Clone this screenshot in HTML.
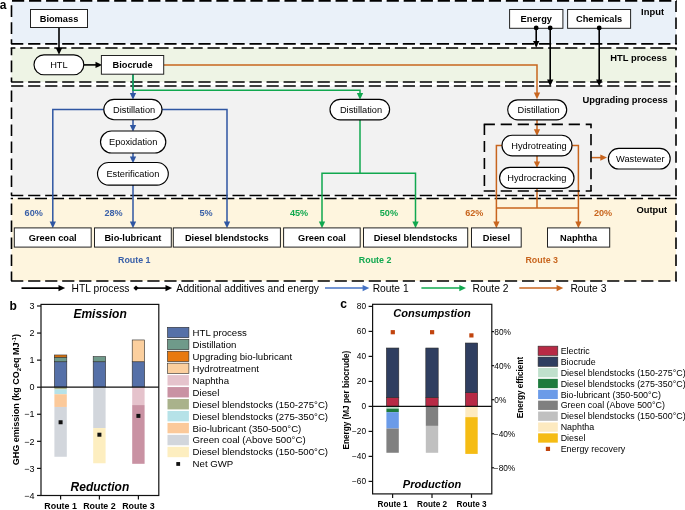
<!DOCTYPE html>
<html lang="en"><head><meta charset="utf-8"><title>Figure</title>
<style>html,body{margin:0;padding:0;background:#fff}svg{display:block}text{font-family:"Liberation Sans",sans-serif;fill:#000}.b{font-weight:bold}.bi{font-weight:bold;font-style:italic}.bx{fill:#fff;stroke:#222;stroke-width:1}.ds{fill:none;stroke:#111;stroke-width:1.4;stroke-dasharray:11.5 5.5}.k{stroke:#000;stroke-width:1.6;fill:none}.r1{stroke:#2f56a2;stroke-width:1.5;fill:none}.r2{stroke:#11a84f;stroke-width:1.5;fill:none}.r3{stroke:#c8651e;stroke-width:1.5;fill:none}.ax{stroke:#111;stroke-width:1.2;fill:none}</style></head><body>
<svg width="685" height="510" viewBox="0 0 685 510">
<rect width="685" height="510" fill="#fff"/>
<rect x="11.5" y="0.9" width="664.5" height="43.0" fill="#eaf1f9"/>
<rect x="11.5" y="48.0" width="664.5" height="34.0" fill="#eef4e5"/>
<rect x="11.5" y="86.0" width="664.5" height="109.5" fill="#f2f2f2"/>
<rect x="11.5" y="198.5" width="664.5" height="82.5" fill="#fef5de"/>
<path d="M10.7,0.9 H676.8" fill="none" stroke="#000" stroke-width="1.6" stroke-dasharray="12.2 4.83" stroke-dashoffset="15.73"/>
<path d="M10.7,43.9 H676.8" fill="none" stroke="#000" stroke-width="1.6" stroke-dasharray="12.2 4.83" stroke-dashoffset="16.63"/>
<path d="M11.5,0.9 V43.9" fill="none" stroke="#000" stroke-width="1.6" stroke-dasharray="11.6 5.4" stroke-dashoffset="12.60"/>
<path d="M676,0.9 V43.9" fill="none" stroke="#000" stroke-width="1.6" stroke-dasharray="11.6 5.4" stroke-dashoffset="0.40"/>
<path d="M10.7,48.0 H676.8" fill="none" stroke="#000" stroke-width="1.6" stroke-dasharray="12.2 4.83" stroke-dashoffset="7.53"/>
<path d="M10.7,82.0 H676.8" fill="none" stroke="#000" stroke-width="1.6" stroke-dasharray="12.2 4.83" stroke-dashoffset="16.63"/>
<path d="M11.5,48.0 V82.0" fill="none" stroke="#000" stroke-width="1.6" stroke-dasharray="11.6 5.4" stroke-dashoffset="4.40"/>
<path d="M676,48.0 V82.0" fill="none" stroke="#000" stroke-width="1.6" stroke-dasharray="11.6 5.4" stroke-dashoffset="9.30"/>
<path d="M10.7,86.0 H676.8" fill="none" stroke="#000" stroke-width="1.6" stroke-dasharray="12.2 4.83" stroke-dashoffset="16.63"/>
<path d="M10.7,195.5 H676.8" fill="none" stroke="#000" stroke-width="1.6" stroke-dasharray="12.2 4.83" stroke-dashoffset="16.63"/>
<path d="M11.5,86.0 V195.5" fill="none" stroke="#000" stroke-width="1.6" stroke-dasharray="11.6 5.4" stroke-dashoffset="12.60"/>
<path d="M676,86.0 V195.5" fill="none" stroke="#000" stroke-width="1.6" stroke-dasharray="11.6 5.4" stroke-dashoffset="2.80"/>
<path d="M10.7,198.5 H676.8" fill="none" stroke="#000" stroke-width="1.6" stroke-dasharray="12.2 4.83" stroke-dashoffset="9.93"/>
<path d="M10.7,281.0 H676.8" fill="none" stroke="#000" stroke-width="1.6" stroke-dasharray="12.2 4.83" stroke-dashoffset="16.63"/>
<path d="M11.5,198.5 V281.0" fill="none" stroke="#000" stroke-width="1.6" stroke-dasharray="11.6 5.4" stroke-dashoffset="12.00"/>
<path d="M676,198.5 V281.0" fill="none" stroke="#000" stroke-width="1.6" stroke-dasharray="11.6 5.4" stroke-dashoffset="12.00"/>
<text x="-0.3" y="9.2" font-size="12" class="b">a</text>
<path class="r3" d="M164,64.9 H537 V93"/>
<path d="M533.85,92.5 L540.15,92.5 L537,99.2 Z" fill="#c8651e"/>
<path class="r1" d="M133,74 V94"/>
<path d="M129.85,93.0 L136.15,93.0 L133,99.7 Z" fill="#2f56a2"/>
<path class="r2" d="M133,74 V90.3 H360 V94"/>
<path d="M356.85,93.0 L363.15,93.0 L360,99.7 Z" fill="#11a84f"/>
<path class="k" d="M59,27.5 V49"/>
<path d="M55.85,48.0 L62.15,48.0 L59,54.7 Z" fill="#000"/>
<path class="k" d="M83,64.9 H96"/>
<path d="M95.5,61.75000000000001 L95.5,68.05000000000001 L102.2,64.9 Z" fill="#000"/>
<path class="k" d="M536.2,28 V42"/>
<path d="M533.0500000000001,41.0 L539.35,41.0 L536.2,47.7 Z" fill="#000"/>
<path class="k" d="M550.2,28 V80"/>
<path d="M547.0500000000001,79.6 L553.35,79.6 L550.2,86.3 Z" fill="#000"/>
<path class="k" d="M599.2,28 V80"/>
<path d="M596.0500000000001,79.6 L602.35,79.6 L599.2,86.3 Z" fill="#000"/>
<path class="r1" d="M104,109.5 H52.8 V222"/>
<path d="M49.65,221.5 L55.949999999999996,221.5 L52.8,228.2 Z" fill="#2f56a2"/>
<path class="r1" d="M162,109.5 H227 V222"/>
<path d="M223.85,221.5 L230.15,221.5 L227,228.2 Z" fill="#2f56a2"/>
<path class="r1" d="M133,119.7 V126"/>
<path d="M129.85,125.0 L136.15,125.0 L133,131.7 Z" fill="#2f56a2"/>
<path class="r1" d="M133,153 V157.5"/>
<path d="M129.85,156.5 L136.15,156.5 L133,163.2 Z" fill="#2f56a2"/>
<path class="r1" d="M133,185 V222"/>
<path d="M129.85,221.5 L136.15,221.5 L133,228.2 Z" fill="#2f56a2"/>
<path class="r2" d="M360,119.8 V173.3"/>
<path class="r2" d="M322,222 V173.3 H415.5 V222"/>
<path d="M318.85,221.5 L325.15,221.5 L322,228.2 Z" fill="#11a84f"/>
<path d="M412.35,221.5 L418.65,221.5 L415.5,228.2 Z" fill="#11a84f"/>
<path class="r3" d="M537,119.9 V130"/>
<path d="M533.85,129.2 L540.15,129.2 L537,135.89999999999998 Z" fill="#c8651e"/>
<path class="r3" d="M537,155.5 V162"/>
<path d="M533.85,161.4 L540.15,161.4 L537,168.1 Z" fill="#c8651e"/>
<path class="r3" d="M537,187.8 V208"/>
<path class="r3" d="M502.3,145.4 H496.4 V222"/>
<path d="M493.25,221.5 L499.54999999999995,221.5 L496.4,228.2 Z" fill="#c8651e"/>
<path class="r3" d="M572,145.4 H578.4 V222"/>
<path d="M575.25,221.5 L581.55,221.5 L578.4,228.2 Z" fill="#c8651e"/>
<path class="r3" d="M496.4,208 H578.4"/>
<path class="r3" d="M591.5,157.6 H601"/>
<path d="M600.3,154.45 L600.3,160.75 L607.0,157.6 Z" fill="#c8651e"/>
<path d="M483.7,124.4 H591.7" fill="none" stroke="#000" stroke-width="1.6" stroke-dasharray="11.2 5.8" stroke-dashoffset="0.00"/>
<path d="M483.7,191 H591.7" fill="none" stroke="#000" stroke-width="1.6" stroke-dasharray="11.2 5.8" stroke-dashoffset="0.00"/>
<path d="M484.4,124.4 V191" fill="none" stroke="#000" stroke-width="1.6" stroke-dasharray="11.2 5.8" stroke-dashoffset="0.50"/>
<path d="M591,124.4 V191" fill="none" stroke="#000" stroke-width="1.6" stroke-dasharray="11.2 5.8" stroke-dashoffset="7.40"/>
<rect class="bx" x="30.5" y="9.5" width="57.0" height="18.0"/>
<text x="59.0" y="21.83" font-size="9.25" class="b" text-anchor="middle">Biomass</text>
<rect class="bx" x="509.6" y="9.5" width="53.299999999999955" height="18.8"/>
<text x="536.25" y="22.229999999999997" font-size="9.25" class="b" text-anchor="middle">Energy</text>
<rect class="bx" x="567.6" y="9.5" width="63.0" height="18.8"/>
<text x="599.1" y="22.229999999999997" font-size="9.25" class="b" text-anchor="middle">Chemicals</text>
<rect x="34.0" y="54.8" width="49.8" height="19.900000000000006" rx="9.950000000000003" ry="9.950000000000003" fill="#fff" stroke="#000" stroke-width="1.15"/>
<text x="58.9" y="68.08" font-size="9.25" text-anchor="middle">HTL</text>
<rect class="bx" x="101.4" y="55.5" width="62.29999999999998" height="18.700000000000003"/>
<text x="132.55" y="68.17999999999999" font-size="9.25" class="b" text-anchor="middle">Biocrude</text>
<rect x="103.8" y="99.3" width="58.2" height="20.400000000000006" rx="10.200000000000003" ry="10.200000000000003" fill="#fff" stroke="#000" stroke-width="1.15"/>
<text x="134.1" y="112.83" font-size="9.25" text-anchor="middle">Distillation</text>
<rect x="100.5" y="131" width="65.30000000000001" height="22" rx="11.0" ry="11.0" fill="#fff" stroke="#000" stroke-width="1.15"/>
<text x="133.15" y="145.33" font-size="9.25" text-anchor="middle">Epoxidation</text>
<rect x="97.5" y="162.5" width="70.80000000000001" height="22.599999999999994" rx="11.299999999999997" ry="11.299999999999997" fill="#fff" stroke="#000" stroke-width="1.15"/>
<text x="132.9" y="177.13000000000002" font-size="9.25" text-anchor="middle">Esterification</text>
<rect x="330" y="99.4" width="59.60000000000002" height="20.39999999999999" rx="10.199999999999996" ry="10.199999999999996" fill="#fff" stroke="#000" stroke-width="1.15"/>
<text x="361.0" y="112.92999999999999" font-size="9.25" text-anchor="middle">Distillation</text>
<rect x="507.7" y="99.8" width="59.00000000000006" height="20.10000000000001" rx="10.050000000000004" ry="10.050000000000004" fill="#fff" stroke="#000" stroke-width="1.15"/>
<text x="538.7" y="113.17999999999999" font-size="9.25" text-anchor="middle">Distillation</text>
<rect x="502" y="135.2" width="70" height="20.600000000000023" rx="10.300000000000011" ry="10.300000000000011" fill="#fff" stroke="#000" stroke-width="1.15"/>
<text x="539.0" y="148.83" font-size="9.25" text-anchor="middle">Hydrotreating</text>
<rect x="499.6" y="167.4" width="74.39999999999998" height="21.0" rx="10.5" ry="10.5" fill="#fff" stroke="#000" stroke-width="1.15"/>
<text x="536.8" y="181.23000000000002" font-size="9.25" text-anchor="middle">Hydrocracking</text>
<rect x="608.4" y="148.3" width="61.80000000000007" height="20.69999999999999" rx="10.349999999999994" ry="10.349999999999994" fill="#fff" stroke="#000" stroke-width="1.15"/>
<text x="640.3" y="161.98000000000002" font-size="9.25" text-anchor="middle">Wastewater</text>
<rect class="bx" x="14.3" y="227.9" width="76.9" height="19.19999999999999"/>
<text x="52.75" y="240.83" font-size="9.25" class="b" text-anchor="middle">Green coal</text>
<rect class="bx" x="94.5" y="227.9" width="76.80000000000001" height="19.19999999999999"/>
<text x="132.9" y="240.83" font-size="9.25" class="b" text-anchor="middle">Bio-lubricant</text>
<rect class="bx" x="173.3" y="227.9" width="107.09999999999997" height="19.19999999999999"/>
<text x="226.85" y="240.83" font-size="9.25" class="b" text-anchor="middle">Diesel blendstocks</text>
<rect class="bx" x="283.6" y="227.9" width="76.59999999999997" height="19.19999999999999"/>
<text x="321.9" y="240.83" font-size="9.25" class="b" text-anchor="middle">Green coal</text>
<rect class="bx" x="363.5" y="227.9" width="104.19999999999999" height="19.19999999999999"/>
<text x="415.6" y="240.83" font-size="9.25" class="b" text-anchor="middle">Diesel blendstocks</text>
<rect class="bx" x="471.5" y="227.9" width="49.700000000000045" height="19.19999999999999"/>
<text x="496.35" y="240.83" font-size="9.25" class="b" text-anchor="middle">Diesel</text>
<rect class="bx" x="547.5" y="227.9" width="62.200000000000045" height="19.19999999999999"/>
<text x="578.6" y="240.83" font-size="9.25" class="b" text-anchor="middle">Naphtha</text>
<circle cx="536.2" cy="27.9" r="2.4" fill="#000"/>
<circle cx="550.2" cy="27.9" r="2.4" fill="#000"/>
<circle cx="599.2" cy="27.9" r="2.4" fill="#000"/>
<text x="641.1" y="14.8" font-size="9.4" class="b" text-anchor="start">Input</text>
<text x="610.3" y="61.2" font-size="9.4" class="b" text-anchor="start">HTL process</text>
<text x="582.4" y="102.6" font-size="9.4" class="b" text-anchor="start">Upgrading process</text>
<text x="636.4" y="213" font-size="9.4" class="b" text-anchor="start">Output</text>
<text x="24.6" y="215.6" font-size="9.1" class="b" text-anchor="start" style="fill:#3a60a8">60%</text>
<text x="104.5" y="215.6" font-size="9.1" class="b" text-anchor="start" style="fill:#3a60a8">28%</text>
<text x="199.4" y="215.6" font-size="9.1" class="b" text-anchor="start" style="fill:#3a60a8">5%</text>
<text x="290" y="215.6" font-size="9.1" class="b" text-anchor="start" style="fill:#11a84f">45%</text>
<text x="379.8" y="215.6" font-size="9.1" class="b" text-anchor="start" style="fill:#11a84f">50%</text>
<text x="465.2" y="215.6" font-size="9.1" class="b" text-anchor="start" style="fill:#c8651e">62%</text>
<text x="594" y="215.6" font-size="9.1" class="b" text-anchor="start" style="fill:#c8651e">20%</text>
<text x="134.3" y="262.7" font-size="8.9" class="b" text-anchor="middle" style="fill:#3a60a8">Route 1</text>
<text x="375.1" y="262.7" font-size="8.9" class="b" text-anchor="middle" style="fill:#11a84f">Route 2</text>
<text x="541.7" y="262.7" font-size="8.9" class="b" text-anchor="middle" style="fill:#c8651e">Route 3</text>
<path class="k" d="M21.5,288.1 H59"/>
<path d="M58.5,284.95000000000005 L58.5,291.25 L65.2,288.1 Z" fill="#000"/>
<text x="71.6" y="291.7" font-size="10.27" text-anchor="start">HTL process</text>
<path class="k" d="M136,288.1 H166"/>
<path d="M165.5,284.95000000000005 L165.5,291.25 L172.2,288.1 Z" fill="#000"/>
<path d="M133.4,288.1 L136,285.5 L138.6,288.1 L136,290.70000000000005 Z" fill="#000"/>
<text x="176.3" y="291.7" font-size="10.27" text-anchor="start">Additional additives and energy</text>
<path class="r1" style="stroke:#4472c4" d="M325,288.1 H363"/>
<path d="M362.6,284.95000000000005 L362.6,291.25 L369.3,288.1 Z" fill="#4472c4"/>
<text x="372.7" y="291.7" font-size="10.27" text-anchor="start">Route 1</text>
<path class="r2" d="M421.4,288.1 H460"/>
<path d="M459.3,284.95000000000005 L459.3,291.25 L466.0,288.1 Z" fill="#11a84f"/>
<text x="472.5" y="291.7" font-size="10.27" text-anchor="start">Route 2</text>
<path class="r3" d="M519.3,288.1 H557"/>
<path d="M556.6,284.95000000000005 L556.6,291.25 L563.3000000000001,288.1 Z" fill="#c8651e"/>
<text x="570.4" y="291.7" font-size="10.27" text-anchor="start">Route 3</text>
<text x="9.5" y="310.3" font-size="12" class="b">b</text>
<rect x="54.40" y="361.75" width="12.4" height="25.45" fill="#5570a8" stroke="#2b2b2b" stroke-width="0.6"/>
<rect x="54.40" y="357.15" width="12.4" height="4.60" fill="#6f9a8a" stroke="#2b2b2b" stroke-width="0.6"/>
<rect x="54.40" y="354.99" width="12.4" height="2.17" fill="#e8790f" stroke="#2b2b2b" stroke-width="0.6"/>
<rect x="93.20" y="361.75" width="12.4" height="25.45" fill="#5570a8" stroke="#2b2b2b" stroke-width="0.6"/>
<rect x="93.20" y="356.61" width="12.4" height="5.14" fill="#6f9a8a" stroke="#2b2b2b" stroke-width="0.6"/>
<rect x="132.20" y="361.75" width="12.4" height="25.45" fill="#5570a8" stroke="#2b2b2b" stroke-width="0.6"/>
<rect x="132.20" y="339.96" width="12.4" height="21.79" fill="#fbcf9e" stroke="#2b2b2b" stroke-width="0.6"/>
<rect x="54.40" y="387.20" width="12.4" height="2.17" fill="#a9b28b"/>
<rect x="54.40" y="389.37" width="12.4" height="4.87" fill="#b6e2e8"/>
<rect x="54.40" y="394.24" width="12.4" height="12.72" fill="#fbc99a"/>
<rect x="54.40" y="406.96" width="12.4" height="49.81" fill="#d2d6dc"/>
<rect x="93.20" y="387.20" width="12.4" height="40.88" fill="#d2d6dc"/>
<rect x="93.20" y="428.08" width="12.4" height="35.19" fill="#fdeec0"/>
<rect x="132.20" y="387.20" width="12.4" height="17.87" fill="#e5c3cc"/>
<rect x="132.20" y="405.07" width="12.4" height="58.74" fill="#c992a3"/>
<rect class="ax" x="41" y="304.4" width="117.80000000000001" height="191.10000000000002"/>
<path class="ax" d="M41,387.20 H158.8"/>
<path class="ax" d="M37,495.48 H41"/>
<text x="34.5" y="498.68" font-size="9" text-anchor="end">−4</text>
<path class="ax" d="M37,468.41 H41"/>
<text x="34.5" y="471.60999999999996" font-size="9" text-anchor="end">−3</text>
<path class="ax" d="M37,441.34 H41"/>
<text x="34.5" y="444.53999999999996" font-size="9" text-anchor="end">−2</text>
<path class="ax" d="M37,414.27 H41"/>
<text x="34.5" y="417.46999999999997" font-size="9" text-anchor="end">−1</text>
<path class="ax" d="M37,387.20 H41"/>
<text x="34.5" y="390.4" font-size="9" text-anchor="end">0</text>
<path class="ax" d="M37,360.13 H41"/>
<text x="34.5" y="363.33" font-size="9" text-anchor="end">1</text>
<path class="ax" d="M37,333.06 H41"/>
<text x="34.5" y="336.26" font-size="9" text-anchor="end">2</text>
<path class="ax" d="M37,305.99 H41"/>
<text x="34.5" y="309.19" font-size="9" text-anchor="end">3</text>
<path class="ax" d="M60.6,495.5 V499.5"/>
<text x="60.6" y="509.2" font-size="8.9" class="b" text-anchor="middle">Route 1</text>
<path class="ax" d="M99.4,495.5 V499.5"/>
<text x="99.4" y="509.2" font-size="8.9" class="b" text-anchor="middle">Route 2</text>
<path class="ax" d="M138.4,495.5 V499.5"/>
<text x="138.4" y="509.2" font-size="8.9" class="b" text-anchor="middle">Route 3</text>
<rect x="58.6" y="420.26" width="4" height="4" fill="#111"/>
<rect x="97.4" y="432.71" width="4" height="4" fill="#111"/>
<rect x="136.4" y="413.89" width="4" height="4" fill="#111"/>
<text x="100.1" y="318" font-size="12" class="bi" text-anchor="middle">Emission</text>
<text x="99.9" y="490.5" font-size="12" class="bi" text-anchor="middle">Reduction</text>
<text transform="translate(19.4,399.7) rotate(-90)" font-size="9" class="b" text-anchor="middle">GHG emission (kg CO<tspan font-size="6" dy="2">2</tspan><tspan dy="-2">eq MJ</tspan><tspan font-size="6" dy="-3.5">-1</tspan><tspan dy="3.5">)</tspan></text>
<rect x="167.5" y="327.30" width="21.4" height="10.4" fill="#5570a8" stroke="#2b2b2b" stroke-width="0.6"/>
<text x="192.6" y="335.9" font-size="9.65" text-anchor="start">HTL process</text>
<rect x="167.5" y="339.25" width="21.4" height="10.4" fill="#6f9a8a" stroke="#2b2b2b" stroke-width="0.6"/>
<text x="192.6" y="347.84999999999997" font-size="9.65" text-anchor="start">Distillation</text>
<rect x="167.5" y="351.20" width="21.4" height="10.4" fill="#e8790f" stroke="#2b2b2b" stroke-width="0.6"/>
<text x="192.6" y="359.79999999999995" font-size="9.65" text-anchor="start">Upgrading bio-lubricant</text>
<rect x="167.5" y="363.15" width="21.4" height="10.4" fill="#fbcf9e" stroke="#2b2b2b" stroke-width="0.6"/>
<text x="192.6" y="371.75" font-size="9.65" text-anchor="start">Hydrotreatment</text>
<rect x="167.5" y="375.10" width="21.4" height="10.4" fill="#e5c3cc"/>
<text x="192.6" y="383.7" font-size="9.65" text-anchor="start">Naphtha</text>
<rect x="167.5" y="387.05" width="21.4" height="10.4" fill="#c992a3"/>
<text x="192.6" y="395.65" font-size="9.65" text-anchor="start">Diesel</text>
<rect x="167.5" y="399.00" width="21.4" height="10.4" fill="#a9b28b"/>
<text x="192.6" y="407.59999999999997" font-size="9.65" text-anchor="start">Diesel blendstocks (150-275°C)</text>
<rect x="167.5" y="410.95" width="21.4" height="10.4" fill="#b6e2e8"/>
<text x="192.6" y="419.54999999999995" font-size="9.65" text-anchor="start">Diesel blendstocks (275-350°C)</text>
<rect x="167.5" y="422.90" width="21.4" height="10.4" fill="#fbc99a"/>
<text x="192.6" y="431.5" font-size="9.65" text-anchor="start">Bio-lubricant (350-500°C)</text>
<rect x="167.5" y="434.85" width="21.4" height="10.4" fill="#d2d6dc"/>
<text x="192.6" y="443.45" font-size="9.65" text-anchor="start">Green coal (Above 500°C)</text>
<rect x="167.5" y="446.80" width="21.4" height="10.4" fill="#fdeec0"/>
<text x="192.6" y="455.4" font-size="9.65" text-anchor="start">Diesel blendstocks (150-500°C)</text>
<rect x="176.30" y="462.05" width="3.8" height="3.8" fill="#111"/>
<text x="192.6" y="467.34999999999997" font-size="9.65" text-anchor="start">Net GWP</text>
<text x="340.2" y="307.7" font-size="12" class="b">c</text>
<rect x="386.40" y="397.40" width="12.4" height="9.00" fill="#b72a45" stroke="#2b2b2b" stroke-width="0.6"/>
<rect x="386.40" y="348.02" width="12.4" height="49.38" fill="#2f3e60" stroke="#2b2b2b" stroke-width="0.6"/>
<rect x="425.80" y="397.40" width="12.4" height="9.00" fill="#b72a45" stroke="#2b2b2b" stroke-width="0.6"/>
<rect x="425.80" y="348.02" width="12.4" height="49.38" fill="#2f3e60" stroke="#2b2b2b" stroke-width="0.6"/>
<rect x="465.30" y="392.65" width="12.4" height="13.75" fill="#b72a45" stroke="#2b2b2b" stroke-width="0.6"/>
<rect x="465.30" y="343.02" width="12.4" height="49.62" fill="#2f3e60" stroke="#2b2b2b" stroke-width="0.6"/>
<rect x="386.40" y="406.40" width="12.4" height="2.25" fill="#c0e0cc"/>
<rect x="386.40" y="408.65" width="12.4" height="3.50" fill="#1e7b3d"/>
<rect x="386.40" y="412.15" width="12.4" height="16.38" fill="#6b9be8"/>
<rect x="386.40" y="428.52" width="12.4" height="24.25" fill="#808080"/>
<rect x="425.80" y="406.40" width="12.4" height="19.50" fill="#808080"/>
<rect x="425.80" y="425.90" width="12.4" height="26.88" fill="#c0c0c0"/>
<rect x="465.30" y="406.40" width="12.4" height="10.75" fill="#fdeac0"/>
<rect x="465.30" y="417.15" width="12.4" height="36.75" fill="#f5bc14"/>
<rect class="ax" x="372.6" y="304.3" width="119.19999999999999" height="189.59999999999997"/>
<path class="ax" d="M372.6,406.40 H491.8"/>
<path class="ax" d="M368.6,481.40 H372.6"/>
<text x="366.1" y="484.4" font-size="8.3" text-anchor="end">−60</text>
<path class="ax" d="M368.6,456.40 H372.6"/>
<text x="366.1" y="459.4" font-size="8.3" text-anchor="end">−40</text>
<path class="ax" d="M368.6,431.40 H372.6"/>
<text x="366.1" y="434.4" font-size="8.3" text-anchor="end">−20</text>
<path class="ax" d="M368.6,406.40 H372.6"/>
<text x="366.1" y="409.4" font-size="8.3" text-anchor="end">0</text>
<path class="ax" d="M368.6,381.40 H372.6"/>
<text x="366.1" y="384.4" font-size="8.3" text-anchor="end">20</text>
<path class="ax" d="M368.6,356.40 H372.6"/>
<text x="366.1" y="359.4" font-size="8.3" text-anchor="end">40</text>
<path class="ax" d="M368.6,331.40 H372.6"/>
<text x="366.1" y="334.4" font-size="8.3" text-anchor="end">60</text>
<path class="ax" d="M368.6,306.40 H372.6"/>
<text x="366.1" y="309.4" font-size="8.3" text-anchor="end">80</text>
<path class="ax" d="M491.8,331.60 H494.1"/>
<text x="494.3" y="334.6" font-size="8.3" text-anchor="start">80%</text>
<path class="ax" d="M491.8,365.65 H494.1"/>
<text x="494.3" y="368.65000000000003" font-size="8.3" text-anchor="start">40%</text>
<path class="ax" d="M491.8,399.70 H494.1"/>
<text x="494.3" y="402.70000000000005" font-size="8.3" text-anchor="start">0%</text>
<path class="ax" d="M491.8,433.75 H494.1"/>
<text x="493.8" y="436.75" font-size="8.3" text-anchor="start">−40%</text>
<path class="ax" d="M491.8,467.80 H494.1"/>
<text x="493.8" y="470.8" font-size="8.3" text-anchor="start">−80%</text>
<path class="ax" d="M392.6,493.9 V497.9"/>
<text x="392.6" y="506.8" font-size="8.2" class="b" text-anchor="middle">Route 1</text>
<path class="ax" d="M432.0,493.9 V497.9"/>
<text x="432.0" y="506.8" font-size="8.2" class="b" text-anchor="middle">Route 2</text>
<path class="ax" d="M471.5,493.9 V497.9"/>
<text x="471.5" y="506.8" font-size="8.2" class="b" text-anchor="middle">Route 3</text>
<rect x="390.7" y="330.09999999999997" width="4.2" height="4.2" fill="#c1440e"/>
<rect x="430.0" y="330.09999999999997" width="4.2" height="4.2" fill="#c1440e"/>
<rect x="469.29999999999995" y="333.29999999999995" width="4.2" height="4.2" fill="#c1440e"/>
<text x="432" y="317.1" font-size="11.05" class="bi" text-anchor="middle">Consumpstion</text>
<text x="432" y="487.6" font-size="11.05" class="bi" text-anchor="middle">Production</text>
<text transform="translate(349.1,400.1) rotate(-90)" font-size="8.2" class="b" text-anchor="middle">Energy (MJ per biocrude)</text>
<text transform="translate(522.5,387.6) rotate(-90)" font-size="8.2" class="b" text-anchor="middle">Energy efficient</text>
<rect x="538.1" y="346.15" width="19.7" height="9.3" fill="#b72a45" stroke="#2b2b2b" stroke-width="0.6"/>
<text x="560.7" y="353.90000000000003" font-size="8.9" text-anchor="start">Electric</text>
<rect x="538.1" y="357.05" width="19.7" height="9.3" fill="#2f3e60" stroke="#2b2b2b" stroke-width="0.6"/>
<text x="560.7" y="364.8" font-size="8.9" text-anchor="start">Biocrude</text>
<rect x="538.1" y="367.95" width="19.7" height="9.3" fill="#c0e0cc"/>
<text x="560.7" y="375.70000000000005" font-size="8.9" text-anchor="start">Diesel blendstocks (150-275°C)</text>
<rect x="538.1" y="378.85" width="19.7" height="9.3" fill="#1e7b3d"/>
<text x="560.7" y="386.6" font-size="8.9" text-anchor="start">Diesel blendstocks (275-350°C)</text>
<rect x="538.1" y="389.75" width="19.7" height="9.3" fill="#6b9be8"/>
<text x="560.7" y="397.50000000000006" font-size="8.9" text-anchor="start">Bio-lubricant (350-500°C)</text>
<rect x="538.1" y="400.65" width="19.7" height="9.3" fill="#808080"/>
<text x="560.7" y="408.40000000000003" font-size="8.9" text-anchor="start">Green coal (Above 500°C)</text>
<rect x="538.1" y="411.55" width="19.7" height="9.3" fill="#c0c0c0"/>
<text x="560.7" y="419.30000000000007" font-size="8.9" text-anchor="start">Diesel blendstocks (150-500°C)</text>
<rect x="538.1" y="422.45" width="19.7" height="9.3" fill="#fdeac0"/>
<text x="560.7" y="430.20000000000005" font-size="8.9" text-anchor="start">Naphtha</text>
<rect x="538.1" y="433.35" width="19.7" height="9.3" fill="#f5bc14"/>
<text x="560.7" y="441.1" font-size="8.9" text-anchor="start">Diesel</text>
<rect x="545.85" y="446.80" width="4.2" height="4.2" fill="#c1440e"/>
<text x="560.7" y="452.00000000000006" font-size="8.9" text-anchor="start">Energy recovery</text>
</svg></body></html>
